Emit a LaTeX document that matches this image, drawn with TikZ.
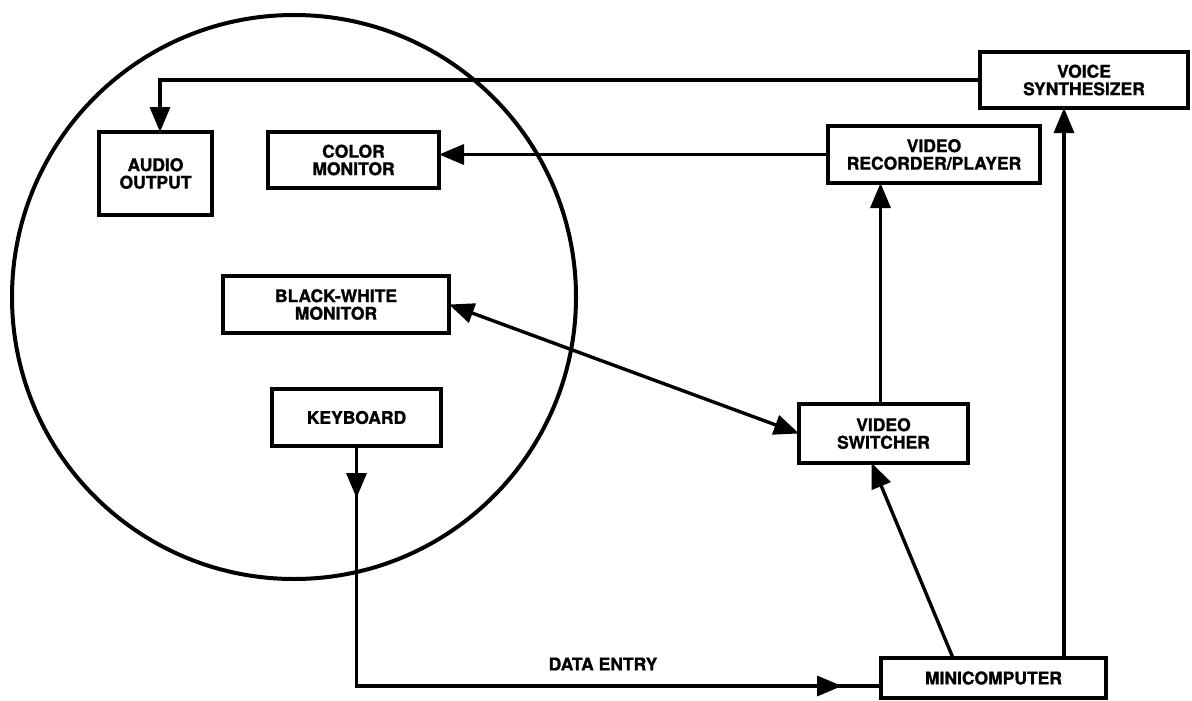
\documentclass[tikz,border=0pt]{standalone}
\usepackage{fontspec}
\setmainfont{TeX Gyre Heros}[BoldFeatures={FakeBold=1.2}]
\usetikzlibrary{arrows.meta,decorations.markings,calc}
\begin{document}
\begin{tikzpicture}[x=1pt,y=-1pt,
  Tri/.tip={Triangle[length=25pt,width=20pt]},
  box/.style={draw, line width=4pt, inner sep=0pt, outer sep=0pt, align=center,
    font=\fontsize{17.5}{17.5}\selectfont\bfseries},
  lbl/.style={inner sep=0pt, font=\fontsize{17.5}{17.5}\selectfont\bfseries},
  conn/.style={line width=3.4pt},
  ring/.style={draw, circle, line width=4pt, inner sep=0pt, outer sep=0pt, minimum size=564pt}]
\useasboundingbox (0,0) rectangle (1192,701);

\node[ring] (rg) at (294,297) {};

\node[box, minimum width=113pt, minimum height=83pt] (ao) at (155.5,173.5) {AUDIO\\OUTPUT};
\node[box, minimum width=171pt, minimum height=56pt] (cm) at (353.5,160) {COLOR\\MONITOR};
\node[box, minimum width=226pt, minimum height=57pt] (bw) at (336,304.5) {BLACK-WHITE\\MONITOR};
\node[box, minimum width=169pt, minimum height=57pt] (kb) at (356.5,417.5) {KEYBOARD};
\node[box, minimum width=208pt, minimum height=56pt] (vs) at (1084,80) {VOICE\\SYNTHESIZER};
\node[box, minimum width=212pt, minimum height=57pt] (vr) at (934,154.5) {VIDEO\\RECORDER/PLAYER};
\node[box, minimum width=169pt, minimum height=59pt] (sw) at (883.5,433.5) {VIDEO\\SWITCHER};
\node[box, minimum width=225pt, minimum height=40pt] (mc) at (993.5,678) {MINICOMPUTER};
\node[lbl] (de) at (603,664) {DATA ENTRY};

\coordinate (vx) at (1064,0);
\coordinate (cw) at ([yshift=-8pt]mc.west);

\draw[conn,-{Tri}] (vs.west) -- ([xshift=4.5pt]ao.north |- vs.west) -- ([xshift=4.5pt]ao.north);
\draw[conn,-{Tri}] (vr.west) -- (vr.west -| cm.east);
\draw[conn,-{Tri}] ([xshift=-3pt]sw.north) -- ([xshift=-3pt]sw.north |- vr.south);
\draw[conn,-{Tri}] (mc.north -| vx) -- (vs.south -| vx);
\draw[conn,-{Tri}] ($(mc.north west)!0.32!(mc.north east)$) -- ($(sw.south west)!0.43!(sw.south east)$);
\draw[conn,{Tri}-{Tri}] (bw.east) -- (sw.west);
\draw[conn, postaction={decorate}, decoration={markings,
    mark=at position 52pt with {\arrow{Tri}},
    mark=at position -39pt with {\arrow{Tri}}}]
  (kb.south) -- (kb.south |- cw) -- (cw);
\end{tikzpicture}
\end{document}
